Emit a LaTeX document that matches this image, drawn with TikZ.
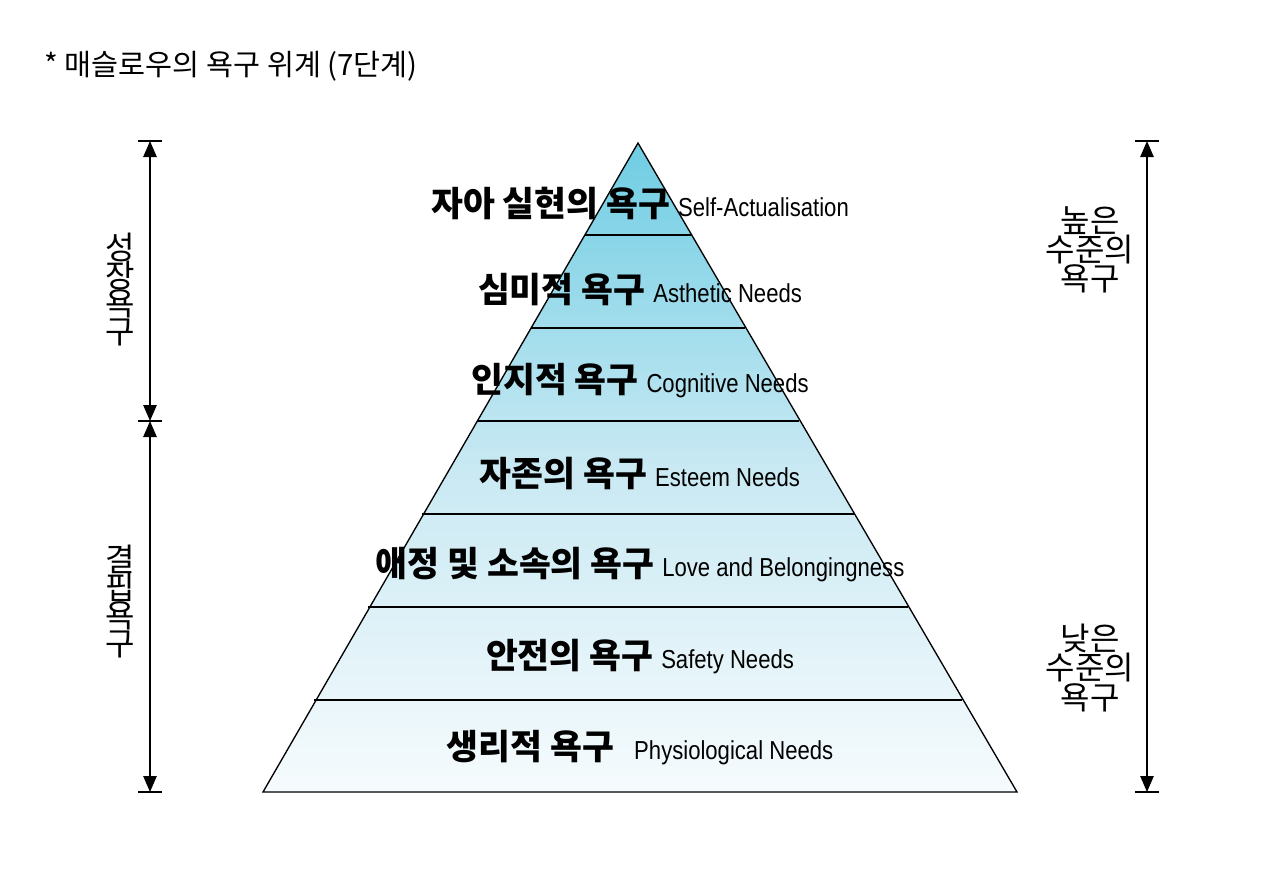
\documentclass[tikz,border=0pt]{standalone}
\usepackage{fontspec}
\setmainfont{Noto Sans CJK KR}
\usetikzlibrary{arrows.meta}
\definecolor{topc}{HTML}{6FCDE3}
\definecolor{midc}{HTML}{C9E9F3}
\definecolor{botc}{HTML}{F6FBFD}
\tikzset{
  lyr/.style={font=\fontsize{26}{28}\selectfont, inner sep=0pt},
  side/.style={font=\fontsize{24}{27}\selectfont, align=center},
  arr/.style={line width=1.2pt, {Triangle[length=12pt,width=10pt]}-{Triangle[length=12pt,width=10pt]}},
  bar/.style={line width=1.2pt}
}
\newcommand{\enx}[1]{{\fontsize{19.5}{21}\selectfont\fontspec{Liberation Sans}[FakeStretch=0.85]#1}}
\begin{document}
\begin{tikzpicture}[x=0.75pt,y=-0.75pt]
\useasboundingbox (0,0) rectangle (1280,872);
\node[anchor=west, font=\fontsize{22}{24}\selectfont] (title) at (40,66) {* 매슬로우의 욕구 위계 (7단계)};
% pyramid
\shade[top color=topc, bottom color=botc, middle color=midc] (638,143) -- (1017,792) -- (263,792) -- cycle;
\draw[line width=1pt] (638,143) -- (1017,792) -- (263,792) -- cycle;
\foreach \y in {235,328,421,514,607,700}{
  \pgfmathsetmacro{\dx}{(\y-143)/649*377}
  \draw[line width=1pt] (638-\dx,\y) -- (638+\dx,\y);
}
\node[lyr] (l1) at (640,203) {\textbf{자아 실현의 욕구} \enx{Self-Actualisation}};
\node[lyr] (l2) at (640,290) {\textbf{심미적 욕구} \enx{Asthetic Needs}};
\node[lyr] (l3) at (640,381) {\textbf{인지적 욕구} \enx{Cognitive Needs}};
\node[lyr] (l4) at (640,474) {\textbf{자존의 욕구} \enx{Esteem Needs}};
\node[lyr] (l5) at (640,565) {\textbf{애정 및 소속의 욕구} \enx{Love and Belongingness}};
\node[lyr] (l6) at (640,657) {\textbf{안전의 욕구} \enx{Safety Needs}};
\node[lyr] (l7) at (640,748) {\textbf{생리적 욕구} \enx{~~Physiological Needs}};
% left arrows
\coordinate (a1) at (150,141);
\coordinate (a2) at (150,421);
\coordinate (a3) at (150,792);
\draw[arr] (a1) -- (a2);
\draw[arr] (a2) -- (a3);
\foreach \y in {141,421,792} \draw[bar] (138,\y) -- (162,\y);
\node[side] (g) at (120,290) {성\\[-6pt]장\\[-6pt]욕\\[-6pt]구};
\node[side] (d) at (120,602) {결\\[-6pt]핍\\[-6pt]욕\\[-6pt]구};
% right arrow
\coordinate (b1) at (1147,141);
\coordinate (b2) at (1147,792);
\draw[arr] (b1) -- (b2);
\foreach \y in {141,792} \draw[bar] (1135,\y) -- (1159,\y);
\node[side] (hi) at (1090,250) {높은\\[-5pt]수준의\\[-5pt]욕구};
\node[side] (lo) at (1090,668) {낮은\\[-5pt]수준의\\[-5pt]욕구};
\end{tikzpicture}
\end{document}
